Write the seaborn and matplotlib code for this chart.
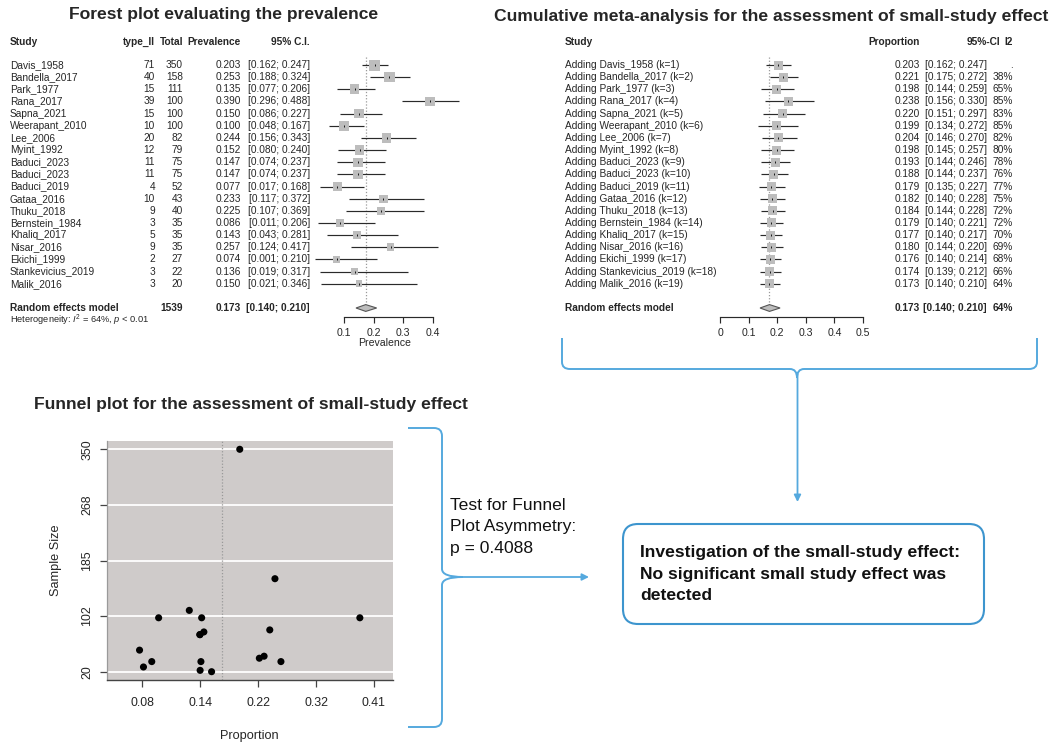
import numpy as np
import pandas as pd
import matplotlib
matplotlib.use("Agg")
import matplotlib.pyplot as plt
import seaborn as sns
from matplotlib.path import Path
from matplotlib.patches import PathPatch, FancyBboxPatch

# ---------------- data ----------------
studies = ["Davis_1958", "Bandella_2017", "Park_1977", "Rana_2017", "Sapna_2021",
           "Weerapant_2010", "Lee_2006", "Myint_1992", "Baduci_2023", "Baduci_2023",
           "Baduci_2019", "Gataa_2016", "Thuku_2018", "Bernstein_1984", "Khaliq_2017",
           "Nisar_2016", "Ekichi_1999", "Stankevicius_2019", "Malik_2016"]
events = [71, 40, 15, 39, 15, 10, 20, 12, 11, 11, 4, 10, 9, 3, 5, 9, 2, 3, 3]
totals = [350, 158, 111, 100, 100, 100, 82, 79, 75, 75, 52, 43, 40, 35, 35, 35, 27, 22, 20]
prev = [0.203, 0.253, 0.135, 0.390, 0.150, 0.100, 0.244, 0.152, 0.147, 0.147,
        0.077, 0.233, 0.225, 0.086, 0.143, 0.257, 0.074, 0.136, 0.150]
prev_lo = [0.162, 0.188, 0.077, 0.296, 0.086, 0.048, 0.156, 0.080, 0.074, 0.074,
           0.017, 0.117, 0.107, 0.011, 0.043, 0.124, 0.001, 0.019, 0.021]
prev_hi = [0.247, 0.324, 0.206, 0.488, 0.227, 0.167, 0.343, 0.240, 0.237, 0.237,
           0.168, 0.372, 0.369, 0.206, 0.281, 0.417, 0.210, 0.317, 0.346]
pooled_est, pooled_lo, pooled_hi = 0.173, 0.140, 0.210
heterogeneity_i2 = "64%"

cum_prop = [0.203, 0.221, 0.198, 0.238, 0.220, 0.199, 0.204, 0.198, 0.193, 0.188,
            0.179, 0.182, 0.184, 0.179, 0.177, 0.180, 0.176, 0.174, 0.173]
cum_lo = [0.162, 0.175, 0.144, 0.156, 0.151, 0.134, 0.146, 0.145, 0.144, 0.144,
          0.135, 0.140, 0.144, 0.140, 0.140, 0.144, 0.140, 0.139, 0.140]
cum_hi = [0.247, 0.272, 0.259, 0.330, 0.297, 0.272, 0.270, 0.257, 0.246, 0.237,
          0.227, 0.228, 0.228, 0.221, 0.217, 0.220, 0.214, 0.212, 0.210]
cum_i2 = [".", "38%", "65%", "85%", "83%", "85%", "82%", "80%", "78%", "76%",
          "77%", "75%", "72%", "72%", "70%", "69%", "68%", "66%", "64%"]

forest_ticks = [0.1, 0.2, 0.3, 0.4]
cum_ticks = [0, 0.1, 0.2, 0.3, 0.4, 0.5]
funnel_xticks_ft = [0.6, 0.8, 1.0, 1.2, 1.4]
funnel_xtick_labels = ["0.08", "0.14", "0.22", "0.32", "0.41"]
egger_p = "0.4088"

# ---------------- style ----------------
sns.set_style("white")
plt.rcParams['font.family'] = ['Liberation Sans', 'DejaVu Sans']
plt.rcParams['mathtext.fontset'] = 'custom'
plt.rcParams['mathtext.rm'] = 'Liberation Sans'
plt.rcParams['mathtext.it'] = 'Liberation Sans:italic'

W, H = 1053, 742
fig = plt.figure(figsize=(W / 100, H / 100), dpi=100)
canvas = fig.add_axes([0, 0, 1, 1])
canvas.set_xlim(0, W)
canvas.set_ylim(H, 0)
canvas.axis('off')
canvas.set_zorder(0)

BLUE = '#55A9DE'
BOXBLUE = '#3D95CE'
SQ = '#BDBDBD'
LN = '#2a2a2a'


def px_axes(x0, x1, y0, y1):
    a = fig.add_axes([x0 / W, 1 - y1 / H, (x1 - x0) / W, (y1 - y0) / H])
    a.set_zorder(1)
    return a


ROW0, DY = 65.0, 12.15
k = len(studies)
rows = np.arange(k)
re_row = k + 1


def row_y(r):
    return ROW0 + DY * r


# ---------------- meta-analysis on Freeman-Tukey scale ----------------
ev = np.array(events, float)
nn = np.array(totals, float)
ft = np.arcsin(np.sqrt(ev / (nn + 1))) + np.arcsin(np.sqrt((ev + 1) / (nn + 1)))
v = 1.0 / (nn + 0.5)
w = 1.0 / v
mu_fe = np.sum(w * ft) / np.sum(w)
Q = np.sum(w * (ft - mu_fe) ** 2)
Cc = np.sum(w) - np.sum(w ** 2) / np.sum(w)
tau2 = max(0.0, (Q - (k - 1)) / Cc)
wr = 1.0 / (v + tau2)
mu_re = np.sum(wr * ft) / np.sum(wr)

TXT = 7.25

# ---------------- forest plot (left) ----------------
canvas.text(224, 15, "Forest plot evaluating the prevalence", ha='center', va='center',
            fontsize=12.6, fontweight='bold')
hy = 42
canvas.text(10, hy, "Study", ha='left', va='center', fontsize=TXT, fontweight='bold')
canvas.text(155, hy, "type_II", ha='right', va='center', fontsize=TXT, fontweight='bold')
canvas.text(183, hy, "Total", ha='right', va='center', fontsize=TXT, fontweight='bold')
canvas.text(241, hy, "Prevalence", ha='right', va='center', fontsize=TXT, fontweight='bold')
canvas.text(310, hy, "95% C.I.", ha='right', va='center', fontsize=TXT, fontweight='bold')
for i in range(k):
    y = row_y(i)
    canvas.text(10, y, studies[i], ha='left', va='center', fontsize=TXT)
    canvas.text(155, y, f"{events[i]}", ha='right', va='center', fontsize=TXT)
    canvas.text(183, y, f"{totals[i]}", ha='right', va='center', fontsize=TXT)
    canvas.text(241, y, f"{prev[i]:.3f}", ha='right', va='center', fontsize=TXT)
    canvas.text(310, y, f"[{prev_lo[i]:.3f}; {prev_hi[i]:.3f}]", ha='right', va='center', fontsize=TXT)
yre = row_y(re_row)
canvas.text(10, yre, "Random effects model", ha='left', va='center', fontsize=TXT, fontweight='bold')
canvas.text(183, yre, f"{int(np.sum(totals))}", ha='right', va='center', fontsize=TXT, fontweight='bold')
canvas.text(241, yre, f"{pooled_est:.3f}", ha='right', va='center', fontsize=TXT, fontweight='bold')
canvas.text(310, yre, f"[{pooled_lo:.3f}; {pooled_hi:.3f}]", ha='right', va='center', fontsize=TXT, fontweight='bold')
canvas.text(10, yre + 12.7, "Heterogeneity: $I^2$ = " + heterogeneity_i2 + ", $p$ < 0.01",
            ha='left', va='center', fontsize=6.7)

axL = px_axes(300, 470, 50, 316.7)
x0px, scL = 314.7, 295.0
axL.set_xlim((300 - x0px) / scL, (470 - x0px) / scL)
axL.set_ylim((316.7 - ROW0) / DY, (50 - ROW0) / DY)
axL.patch.set_alpha(0)
axL.vlines(pooled_est, -0.65, re_row - 0.3, color='#9a9a9a', lw=0.9, ls=(0, (1, 1.5)), zorder=1)
axL.hlines(rows, prev_lo, prev_hi, color=LN, lw=0.85, zorder=2)
side_px = 11.0 * np.sqrt(wr / wr.max())
axL.scatter(prev, rows, s=(side_px * 0.72) ** 2, marker='s', color=SQ, edgecolor='none', zorder=3)
axL.scatter(prev, rows, s=3, marker='|', color='black', linewidths=0.6, zorder=4)
dh = 0.28
axL.fill([pooled_lo, pooled_est, pooled_hi, pooled_est],
         [re_row, re_row - dh, re_row, re_row + dh], facecolor=SQ, edgecolor='#555555', lw=0.8, zorder=3)
for s in ['top', 'right', 'left']:
    axL.spines[s].set_visible(False)
axL.spines['bottom'].set_bounds(forest_ticks[0], forest_ticks[-1])
axL.spines['bottom'].set_color(LN)
axL.spines['bottom'].set_linewidth(0.85)
axL.set_xticks(forest_ticks)
axL.set_xticklabels([f"{t:g}" for t in forest_ticks])
axL.set_yticks([])
axL.tick_params(axis='x', length=4.3, width=0.85, color=LN, pad=3.5, labelsize=7.6, bottom=True)
axL.set_xlabel("Prevalence", fontsize=7.6, labelpad=0.5)

# ---------------- cumulative meta-analysis (right) ----------------
canvas.text(1048, 17, "Cumulative meta-analysis for the assessment of small-study effect",
            ha='right', va='center', fontsize=12.6, fontweight='bold')
canvas.text(565, hy, "Study", ha='left', va='center', fontsize=TXT, fontweight='bold')
canvas.text(920, hy, "Proportion", ha='right', va='center', fontsize=TXT, fontweight='bold')
canvas.text(1000, hy, "95%-CI", ha='right', va='center', fontsize=TXT, fontweight='bold')
canvas.text(1013, hy, "I2", ha='right', va='center', fontsize=TXT, fontweight='bold')
for i in range(k):
    y = row_y(i)
    canvas.text(565, y, f"Adding {studies[i]} (k={i + 1})", ha='left', va='center', fontsize=TXT)
    canvas.text(920, y, f"{cum_prop[i]:.3f}", ha='right', va='center', fontsize=TXT)
    canvas.text(987, y, f"[{cum_lo[i]:.3f}; {cum_hi[i]:.3f}]", ha='right', va='center', fontsize=TXT)
    canvas.text(1013, y, cum_i2[i], ha='right', va='center', fontsize=TXT)
canvas.text(565, yre, "Random effects model", ha='left', va='center', fontsize=TXT, fontweight='bold')
canvas.text(920, yre, f"{pooled_est:.3f}", ha='right', va='center', fontsize=TXT, fontweight='bold')
canvas.text(987, yre, f"[{pooled_lo:.3f}; {pooled_hi:.3f}]", ha='right', va='center', fontsize=TXT, fontweight='bold')
canvas.text(1013, yre, heterogeneity_i2, ha='right', va='center', fontsize=TXT, fontweight='bold')

axR = px_axes(700, 880, 50, 316.7)
x0r, scR = 720.0, 286.0
axR.set_xlim((700 - x0r) / scR, (880 - x0r) / scR)
axR.set_ylim((316.7 - ROW0) / DY, (50 - ROW0) / DY)
axR.patch.set_alpha(0)
axR.vlines(pooled_est, -0.65, re_row - 0.3, color='#9a9a9a', lw=0.9, ls=(0, (1, 1.5)), zorder=1)
axR.hlines(rows, cum_lo, cum_hi, color=LN, lw=0.85, zorder=2)
axR.scatter(cum_prop, rows, s=(9.0 * 0.72) ** 2, marker='s', color=SQ, edgecolor='none', zorder=3)
axR.scatter(cum_prop, rows, s=3, marker='|', color='black', linewidths=0.6, zorder=4)
axR.fill([pooled_lo, pooled_est, pooled_hi, pooled_est],
         [re_row, re_row - dh, re_row, re_row + dh], facecolor=SQ, edgecolor='#555555', lw=0.8, zorder=3)
for s in ['top', 'right', 'left']:
    axR.spines[s].set_visible(False)
axR.spines['bottom'].set_bounds(cum_ticks[0], cum_ticks[-1])
axR.spines['bottom'].set_color(LN)
axR.spines['bottom'].set_linewidth(0.85)
axR.set_xticks(cum_ticks)
axR.set_xticklabels([f"{t:g}" for t in cum_ticks])
axR.set_yticks([])
axR.tick_params(axis='x', length=4.3, width=0.85, color=LN, pad=3.5, labelsize=7.6, bottom=True)

# ---------------- funnel plot ----------------
canvas.text(251, 405, "Funnel plot for the assessment of small-study effect", ha='center', va='center',
            fontsize=12.6, fontweight='bold')
axF = px_axes(106.7, 392.7, 440.7, 680)
t0px, scF = 142.3, 289.6
axF.set_xlim(0.6 - (t0px - 106.7) / scF, 0.6 + (392.7 - t0px) / scF)
ny_per_px = (max(totals) - min(totals)) / (671.7 - 449.3)
axF.set_ylim(min(totals) - (680 - 671.7) * ny_per_px, max(totals) + (449.3 - 440.7) * ny_per_px)
axF.set_facecolor('#CFCBCA')
yt = np.linspace(min(totals), max(totals), 5)
axF.set_yticks(yt)
axF.set_yticklabels([f"{int(round(t))}" for t in yt], rotation=90, va='center')
axF.set_xticks(funnel_xticks_ft)
axF.set_xticklabels(funnel_xtick_labels)
axF.yaxis.grid(True, color='white', lw=1.3)
axF.xaxis.grid(False)
axF.set_axisbelow(True)
axF.axvline(mu_re, color='#999999', lw=0.9, ls=(0, (1, 1.5)), zorder=1)
fdf = pd.DataFrame({'ft': ft, 'n': nn})
sns.scatterplot(data=fdf, x='ft', y='n', ax=axF, color='black', s=26, edgecolor='none',
                legend=False, zorder=3)
for s in ['top', 'right']:
    axF.spines[s].set_visible(False)
axF.spines['left'].set_color('#9a9a9a')
axF.spines['bottom'].set_color('#444444')
axF.spines['left'].set_linewidth(0.9)
axF.spines['bottom'].set_linewidth(1.0)
axF.tick_params(axis='x', length=5, width=0.9, color='#444444', pad=7, labelsize=8.9, bottom=True)
axF.tick_params(axis='y', length=5, width=0.9, color='#444444', pad=4.5, labelsize=8.9, left=True)
axF.set_xlabel("Proportion", fontsize=9.2, labelpad=15)
axF.set_ylabel("Sample Size", fontsize=9.2, labelpad=14)

# ---------------- braces, arrows, conclusion ----------------
M, L, C3 = Path.MOVETO, Path.LINETO, Path.CURVE3
brace_h = Path([(562, 338), (562, 362), (562, 369), (570, 369), (790, 369), (797, 369), (797, 378),
                (797, 369), (804, 369), (1029, 369), (1037, 369), (1037, 362), (1037, 338)],
               [M, L, C3, C3, L, C3, C3, C3, C3, L, C3, C3, L])
canvas.add_patch(PathPatch(brace_h, fc='none', ec=BLUE, lw=1.4))
canvas.annotate("", xy=(797.5, 502), xytext=(797.5, 374),
                arrowprops=dict(arrowstyle='-|>', color=BLUE, lw=1.3, mutation_scale=10,
                                shrinkA=0, shrinkB=0))

brace_v = Path([(408, 428), (434, 428), (442, 428), (442, 436), (442, 569), (442, 577), (463, 577),
                (442, 577), (442, 585), (442, 719), (442, 727), (434, 727), (408, 727)],
               [M, L, C3, C3, L, C3, C3, C3, C3, L, C3, C3, L])
canvas.add_patch(PathPatch(brace_v, fc='none', ec=BLUE, lw=1.4))
canvas.annotate("", xy=(589, 577), xytext=(460, 577),
                arrowprops=dict(arrowstyle='-|>', color=BLUE, lw=1.3, mutation_scale=10,
                                shrinkA=0, shrinkB=0))

for j, line in enumerate(["Test for Funnel", "Plot Asymmetry:", "p = " + egger_p]):
    canvas.text(450, 505 + 21.5 * j, line, ha='left', va='center', fontsize=12.6, color='#111111')

canvas.add_patch(FancyBboxPatch((623, 524), 361, 100, boxstyle="round,pad=0,rounding_size=15",
                                fc='white', ec=BOXBLUE, lw=1.5))
for j, line in enumerate(["Investigation of the small-study effect:",
                          "No significant small study effect was",
                          "detected"]):
    canvas.text(640, 553 + 21 * j, line, ha='left', va='center', fontsize=12.6,
                fontweight='bold', color='#111111')

fig.savefig("out.png", dpi=100)
